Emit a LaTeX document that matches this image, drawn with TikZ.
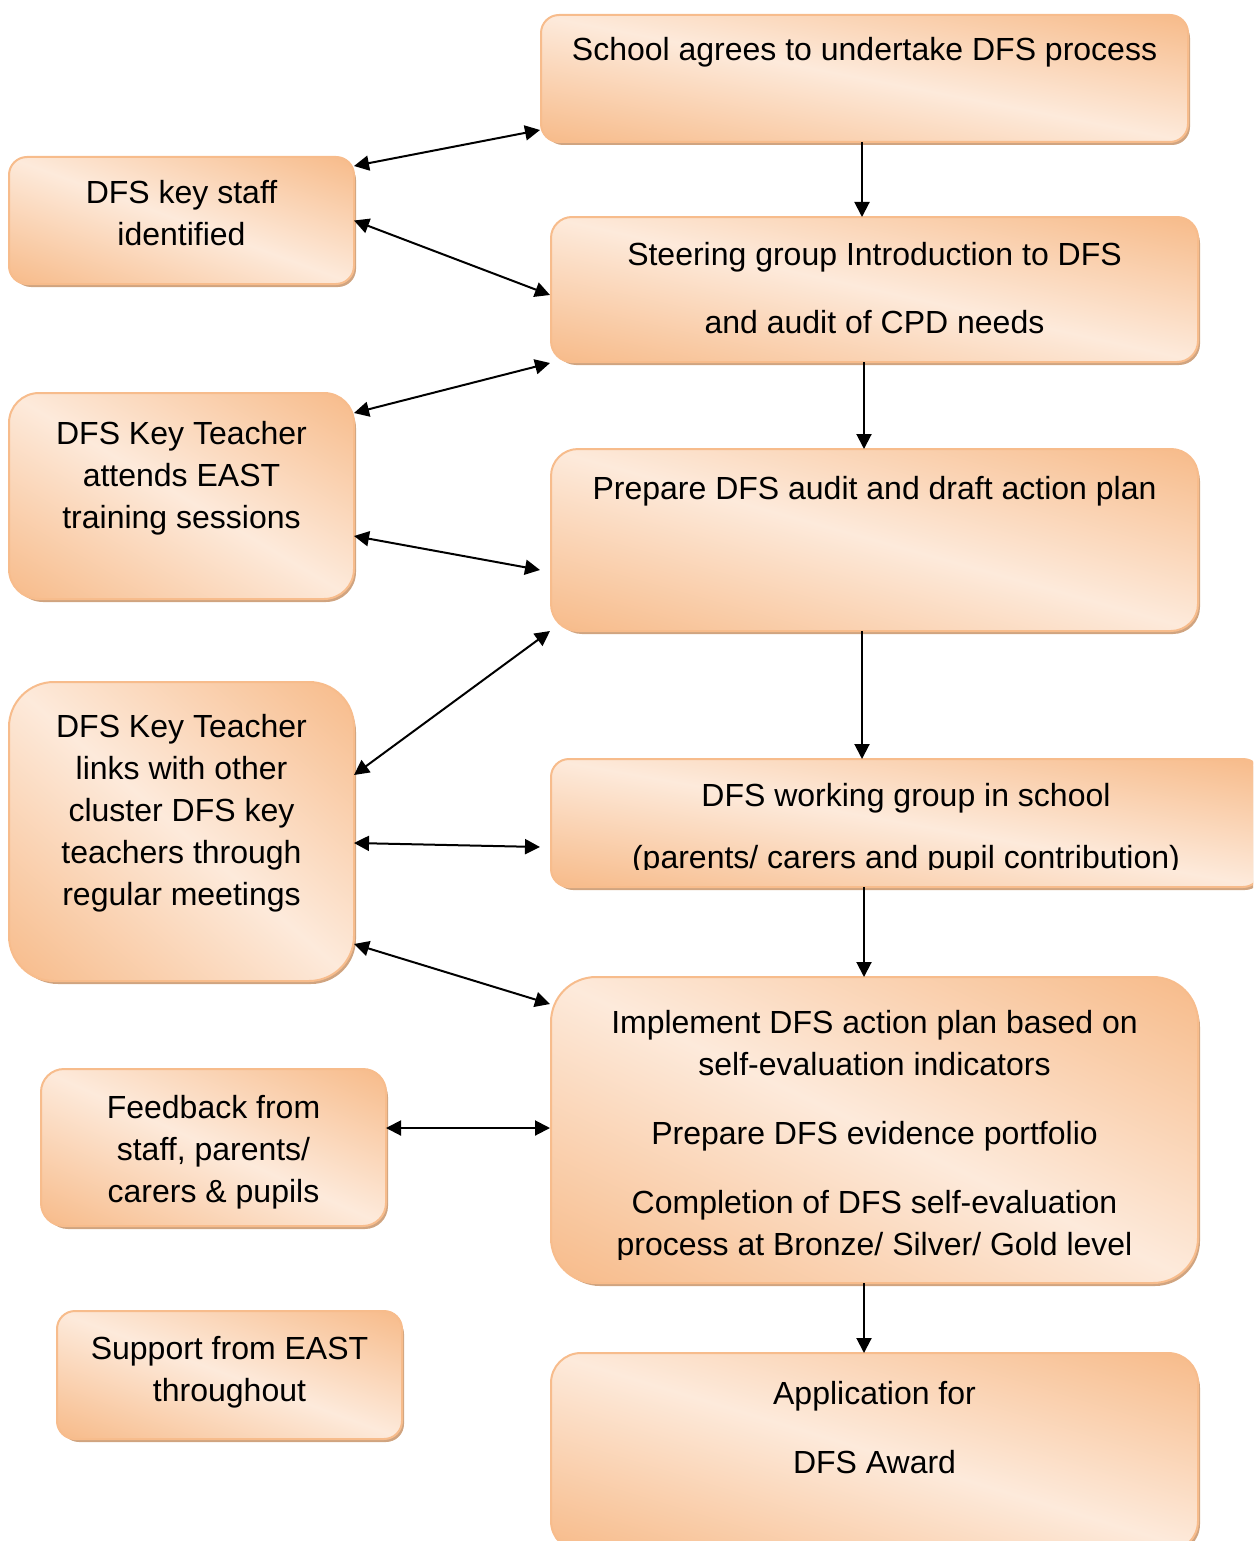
\documentclass[tikz,border=0pt]{standalone}
\usepackage{fontspec}
\setmainfont{Liberation Sans}
\usetikzlibrary{shadows,arrows.meta,calc}
\definecolor{orng}{RGB}{247,187,138}
\definecolor{lite}{RGB}{253,234,219}
\definecolor{bord}{RGB}{247,188,140}
\definecolor{shad}{RGB}{208,164,128}
\newcommand\mlines[1]{\begin{tabular}[t]{@{}c@{}}#1\end{tabular}}
\newcommand\boxfill[4]{%
 \pgfmathsetmacro\bang{atan2(#3,#2)}%
 \pgfmathsetmacro\bdd{veclen(#2,#3)}%
 \pgfmathsetmacro\bhh{2*(#2/\bdd)*#3}%
 \begin{scope}
  \clip[rounded corners=#4] (#1.south west) rectangle (#1.north east);
  \shade[top color=orng, bottom color=orng, middle color=lite,
    transform canvas={rotate around={-\bang:(#1.center)}}]
    ($(#1.center)+(-0.5*\bdd*1pt-20pt,-0.5*\bhh*1pt)$) rectangle
    ($(#1.center)+(0.5*\bdd*1pt+20pt,0.5*\bhh*1pt)$);
 \end{scope}
 \draw[bord, line width=2pt, rounded corners=#4] (#1.south west) rectangle (#1.north east);
}
\begin{document}
\begin{tikzpicture}[x=1pt,y=-1pt,
  box/.style={rectangle, draw=bord, line width=2pt, fill=lite,
    drop shadow={shadow xshift=3pt, shadow yshift=-4pt, fill=shad, opacity=1},
    inner sep=0pt},
  txt/.style={font=\fontsize{32}{42}\selectfont, inner sep=0pt, anchor=base},
  ar/.style={line width=2pt, {Triangle[length=15pt,width=15pt]}-{Triangle[length=15pt,width=15pt]}},
  dn/.style={line width=2pt, -{Triangle[length=15pt,width=15pt]}}]
\useasboundingbox (0,0) rectangle (1253,1541);
\clip (0,0) rectangle (1253,1541);
% boxes
\node[box, rounded corners=18pt, minimum width=645pt, minimum height=125pt] (sch) at (864.5,78.5) {};
\boxfill{sch}{645}{125}{18pt}
\node[box, rounded corners=18pt, minimum width=343pt, minimum height=125pt] (ks) at (181.5,220.5) {};
\boxfill{ks}{343}{125}{18pt}
\node[box, rounded corners=21pt, minimum width=645pt, minimum height=143pt] (st) at (874.5,289.5) {};
\boxfill{st}{645}{143}{21pt}
\node[box, rounded corners=30pt, minimum width=343pt, minimum height=204pt] (at) at (181.5,496) {};
\boxfill{at}{343}{204}{30pt}
\node[box, rounded corners=27pt, minimum width=645pt, minimum height=180pt] (pr) at (874.5,540) {};
\boxfill{pr}{645}{180}{27pt}
\node[box, rounded corners=45pt, minimum width=343pt, minimum height=297pt] (ln) at (181.5,831.5) {};
\boxfill{ln}{343}{297}{45pt}
\node[box, rounded corners=18pt, minimum width=708pt, minimum height=126pt] (wg) at (906,823) {};
\boxfill{wg}{708}{126}{18pt}
\node[box, rounded corners=45pt, minimum width=645pt, minimum height=304pt] (im) at (874.5,1130) {};
\boxfill{im}{645}{304}{45pt}
\node[box, rounded corners=23pt, minimum width=343pt, minimum height=155pt] (fb) at (213.5,1147.5) {};
\boxfill{fb}{343}{155}{23pt}
\node[box, rounded corners=18pt, minimum width=343pt, minimum height=126pt] (sp) at (229.5,1375) {};
\boxfill{sp}{343}{126}{18pt}
\node[box, rounded corners=30pt, minimum width=645pt, minimum height=196pt] (ap) at (874.5,1452) {};
\boxfill{ap}{645}{196}{30pt}
% texts
\node[txt] (tsch) at (864.5,61) {\mlines{School agrees to undertake DFS process}};
\node[txt] (tks) at (181.5,204) {\mlines{DFS key staff\\identified}};
\node[txt] (tst) at (874.5,265) {\mlines{Steering group Introduction to DFS\\[26pt]and audit of CPD needs}};
\node[txt] (tat) at (181.5,444) {\mlines{DFS Key Teacher\\attends EAST\\training sessions}};
\node[txt] (tpr) at (874.5,499) {\mlines{Prepare DFS audit and draft action plan}};
\node[txt] (tln) at (181.5,737) {\mlines{DFS Key Teacher\\links with other\\cluster DFS key\\teachers through\\regular meetings}};
\begin{scope}
\clip (552,760) rectangle (1260,869);
\node[txt] (twg) at (906,806) {\mlines{DFS working group in school\\[20pt](parents/ carers and pupil contribution)}};
\end{scope}
\begin{scope}
\clip (552,978) rectangle (1197,1259);
\node[txt] (tim) at (874.5,1033) {\mlines{Implement DFS action plan based on\\self-evaluation indicators\\[27pt]Prepare DFS evidence portfolio\\[27pt]Completion of DFS self-evaluation\\process at Bronze/ Silver/ Gold level}};
\end{scope}
\node[txt] (tfb) at (213.5,1118) {\mlines{Feedback from\\staff, parents/\\carers \& pupils}};
\node[txt] (tsp) at (229.5,1359) {\mlines{Support from EAST\\throughout}};
\node[txt] (tap) at (874.5,1404) {\mlines{Application for\\[27pt]DFS Award}};
% vertical arrows
\draw[dn] ($(sch.south)+(-2.5,0)$) coordinate (d1) -- (d1 |- st.north);
\draw[dn] ($(st.south)+(-10.5,0)$) coordinate (d2) -- (d2 |- pr.north);
\draw[dn] ($(pr.south)+(-12.5,0)$) coordinate (d3) -- (d3 |- wg.north);
\coordinate (d4) at ($(im.north)+(-10.5,0)$);
\draw[dn] (d4 |- wg.south) -- (d4);
\draw[dn] ($(im.south)+(-10.5,0)$) coordinate (d5) -- (d5 |- ap.north);
% double arrows
\draw[ar] ($(ks.north east)+(0,9)$) -- ($(sch.south west)+(-1,-12)$);
\draw[ar] (ks.east) -- ($(st.west)+(-1,5.5)$);
\draw[ar] ($(at.north east)+(0,20)$) -- ($(st.south west)+(-1,1)$);
\draw[ar] ($(at.east)+(0,40)$) -- ($(pr.west)+(-11,30)$);
\draw[ar] ($(ln.east)+(0,-56.5)$) -- ($(pr.south west)+(-1,0)$);
\draw[ar] ($(ln.east)+(0,11.5)$) -- ($(wg.west)+(-11,24)$);
\draw[ar] ($(ln.east)+(0,112.5)$) -- ($(im.north west)+(-1,27)$);
\draw[ar] ($(fb.east)+(0,-19.5)$) -- ($(im.west)+(-1,-2)$);
\end{tikzpicture}
\end{document}
